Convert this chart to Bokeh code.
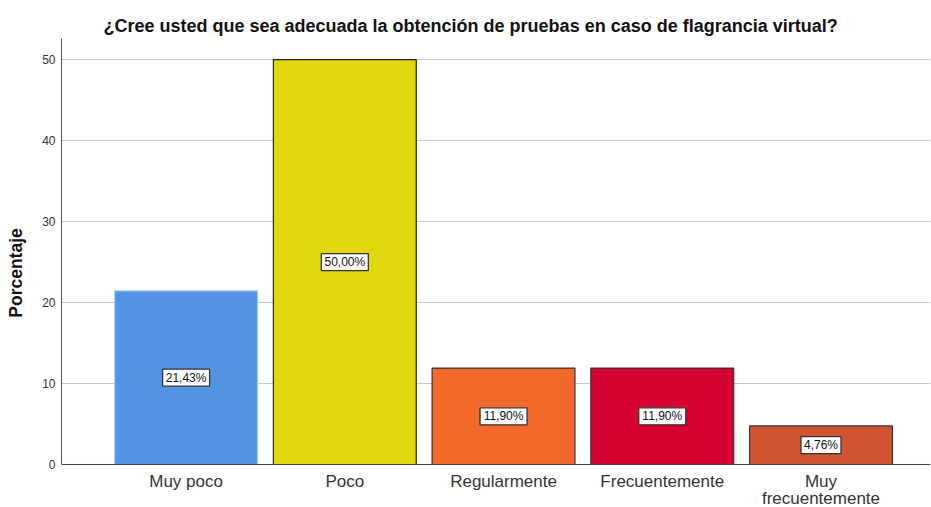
from bokeh.plotting import figure
from bokeh.models import ColumnDataSource, FixedTicker, Range1d, Title, Span
from bokeh.core.properties import value
from bokeh.embed import file_html
from bokeh.resources import INLINE

categories = ["Muy poco", "Poco", "Regularmente", "Frecuentemente", "Muy\nfrecuentemente"]
values = [21.43, 50.00, 11.90, 11.90, 4.76]
labels = ["21,43%", "50,00%", "11,90%", "11,90%", "4,76%"]
colors = ["#5394E3", "#E1D70F", "#F2692B", "#D60032", "#D05332"]
edges = ["#A9C8F0", "#222222", "#333333", "#333333", "#333333"]
y_ticks = [0, 10, 20, 30, 40, 50]

xs = list(range(1, len(categories) + 1))
line1 = [c.split("\n")[0] for c in categories]
line2 = ["\n".join(c.split("\n")[1:]) for c in categories]
src = ColumnDataSource(dict(x=xs, top=values, mid=[v / 2 for v in values],
                            base=[0] * len(xs), l1=line1, l2=line2,
                            lab=labels, color=colors, edge=edges,
                            bw=[len(s) * 7 + 5 for s in labels]))

# frame extends to the bottom of the page so the category labels sit inside it
p = figure(width=931, height=507, output_backend="svg", toolbar_location=None,
           x_range=Range1d(0.215, 5.69), y_range=Range1d(-5.31, 52.6),
           min_border_left=61, min_border_right=1, min_border_top=38, min_border_bottom=0)
p.title = Title(text="¿Cree usted que sea adecuada la obtención de pruebas en caso de flagrancia virtual?",
                text_font="Liberation Sans", text_font_size="18px", text_font_style="bold",
                text_color="#111111", align="left", offset=42, standoff=6)

p.vbar(x="x", top="top", width=0.9, source=src, fill_color="color", line_color="edge", line_width=1.2)

p.rect(x="x", y="mid", width="bw", height=17, width_units="screen", height_units="screen",
       source=src, fill_color="white", line_color="#333333", line_width=1.3)
p.text(x="x", y="mid", text="lab", source=src, text_align="center", text_baseline="middle",
       text_font=value("Liberation Sans"), text_font_size="12px", text_color="#111111")

# category labels under the baseline (first and second line)
p.text(x="x", y="base", text="l1", source=src, y_offset=8,
       text_align="center", text_baseline="top",
       text_font=value("Liberation Sans"), text_font_size="17px", text_color="#333333")
p.text(x="x", y="base", text="l2", source=src, y_offset=25,
       text_align="center", text_baseline="top",
       text_font=value("Liberation Sans"), text_font_size="17px", text_color="#333333")

p.add_layout(Span(location=0, dimension="width", line_color="#444444", line_width=1))

p.outline_line_color = None
p.background_fill_color = "white"
p.xgrid.grid_line_color = None
p.ygrid.grid_line_color = "#C8C8C8"
p.ygrid.ticker = FixedTicker(ticks=y_ticks[1:])

p.xaxis.visible = False

p.yaxis.ticker = FixedTicker(ticks=y_ticks)
p.yaxis.bounds = (0, 52.6)
p.yaxis.axis_label = "Porcentaje"
p.yaxis.axis_label_text_font = "Liberation Sans"
p.yaxis.axis_label_text_font_size = "17.5px"
p.yaxis.axis_label_text_font_style = "bold"
p.yaxis.axis_label_text_color = "#111111"
p.yaxis.axis_label_standoff = 13
p.yaxis.major_label_text_font = "Liberation Sans"
p.yaxis.major_label_text_font_size = "12px"
p.yaxis.major_label_text_color = "#333333"
p.yaxis.major_tick_line_color = None
p.yaxis.major_tick_out = 0
p.yaxis.major_tick_in = 0
p.yaxis.minor_tick_line_color = None
p.yaxis.axis_line_color = "#555555"
p.yaxis.major_label_standoff = 6

open("out.html", "w").write(file_html(p, INLINE))
